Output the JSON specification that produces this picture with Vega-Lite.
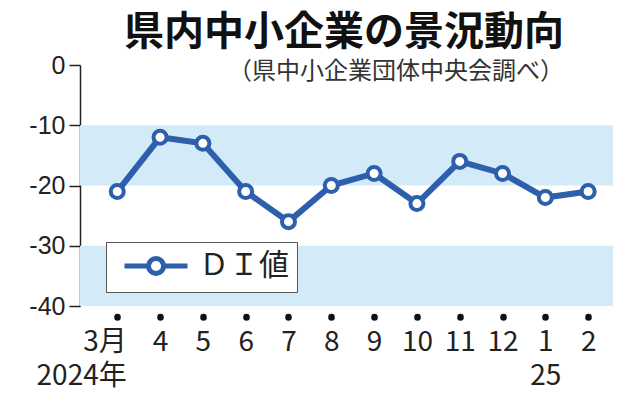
{
  "$schema": "https://vega.github.io/schema/vega-lite/v6.json",
  "description": "県内中小企業の景況動向",
  "width": 533,
  "height": 241,
  "autosize": "none",
  "padding": {"left": 80, "top": 65, "right": 21, "bottom": 94},
  "background": "white",
  "config": {
    "view": {"stroke": null},
    "font": "Noto Sans CJK JP"
  },
  "title": {
    "text": "県内中小企業の景況動向",
    "subtitle": "（県中小企業団体中央会調べ）",
    "anchor": "end",
    "frame": "group",
    "dx": -49,
    "offset": -31,
    "font": "Noto Sans CJK JP",
    "fontSize": 40,
    "fontWeight": "bold",
    "color": "#111",
    "subtitleFont": "Noto Sans CJK JP",
    "subtitleFontSize": 24,
    "subtitleColor": "#333",
    "subtitlePadding": 7
  },
  "datasets": {
    "bands": [
      {"hi": -10, "lo": -20},
      {"hi": -30, "lo": -40}
    ]
  },
  "data": {
    "values": [
      {"month": "3月", "series": "ＤＩ値", "di": -21},
      {"month": "4", "series": "ＤＩ値", "di": -12},
      {"month": "5", "series": "ＤＩ値", "di": -13},
      {"month": "6", "series": "ＤＩ値", "di": -21},
      {"month": "7", "series": "ＤＩ値", "di": -26},
      {"month": "8", "series": "ＤＩ値", "di": -20},
      {"month": "9", "series": "ＤＩ値", "di": -18},
      {"month": "10", "series": "ＤＩ値", "di": -23},
      {"month": "11", "series": "ＤＩ値", "di": -16},
      {"month": "12", "series": "ＤＩ値", "di": -18},
      {"month": "1", "series": "ＤＩ値", "di": -22},
      {"month": "2", "series": "ＤＩ値", "di": -21}
    ]
  },
  "layer": [
    {
      "data": {"name": "bands"},
      "mark": {"type": "rect", "color": "#d3ebf9"},
      "encoding": {
        "y": {"field": "hi", "type": "quantitative"},
        "y2": {"field": "lo"}
      }
    },
    {
      "mark": {"type": "line", "color": "#2e5fac", "strokeWidth": 6},
      "encoding": {
        "x": {
          "field": "month",
          "type": "ordinal",
          "sort": null,
          "scale": {"type": "point", "padding": 0.725, "align": 0.6},
          "axis": {
            "title": null,
            "domain": false,
            "grid": false,
            "offset": 10.5,
            "tickSize": 0.5,
            "tickWidth": 6.5,
            "tickCap": "round",
            "tickColor": "#111",
            "labelAngle": 0,
            "labelFont": "Noto Sans CJK JP",
            "labelFontSize": 28,
            "labelColor": "#222",
            "labelPadding": 11,
            "labelLineHeight": 34,
            "labelAlign": {"expr": "datum.value === '3月' ? 'right' : 'center'"},
            "labelOffset": {"expr": "datum.value === '3月' ? 9 : 0"},
            "labelExpr": "datum.value === '3月' ? ['3月', '2024年'] : datum.value === '1' ? ['1', '25'] : datum.label"
          }
        },
        "y": {
          "field": "di",
          "type": "quantitative",
          "scale": {"domain": [-40, 0], "nice": false},
          "axis": {
            "title": null,
            "grid": false,
            "values": [0, -10, -20, -30, -40],
            "labelExpr": "datum.value == 0 ? '0' : '-' + abs(datum.value)",
            "labelFont": "Liberation Sans, Noto Sans CJK JP",
            "labelFontSize": 25,
            "labelColor": "#222",
            "labelPadding": 4,
            "tickSize": 11,
            "tickWidth": 1.5,
            "tickColor": "#222",
            "domainColor": "#222",
            "domainWidth": 1.5
          }
        }
      }
    },
    {
      "mark": {
        "type": "point",
        "filled": true,
        "fill": "white",
        "strokeWidth": 4,
        "size": 170,
        "opacity": 1
      },
      "encoding": {
        "x": {"field": "month", "type": "ordinal", "sort": null},
        "y": {"field": "di", "type": "quantitative"},
        "stroke": {
          "field": "series",
          "type": "nominal",
          "scale": {"range": ["#2e5fac"]},
          "legend": {
            "title": null,
            "orient": "none",
            "legendX": 26,
            "legendY": 177,
            "padding": 8,
            "strokeColor": "#555",
            "fillColor": "white",
            "symbolType": "M-0.41,0H1.37M2.49,0H4.26M1.37,0A0.56,0.56 0 1,1 2.49,0A0.56,0.56 0 1,1 1.37,0",
            "symbolSize": 729,
            "symbolStrokeWidth": 5,
            "symbolFillColor": "white",
            "labelFont": "Noto Sans CJK JP",
            "labelFontSize": 30,
            "labelColor": "#222",
            "labelOffset": 53,
            "encode": {
              "symbols": {
                "update": {
                  "fill": {"value": "white"},
                  "stroke": {"value": "#2e5fac"},
                  "strokeWidth": {"value": 5},
                  "opacity": {"value": 1}
                }
              }
            }
          }
        }
      }
    }
  ]
}
